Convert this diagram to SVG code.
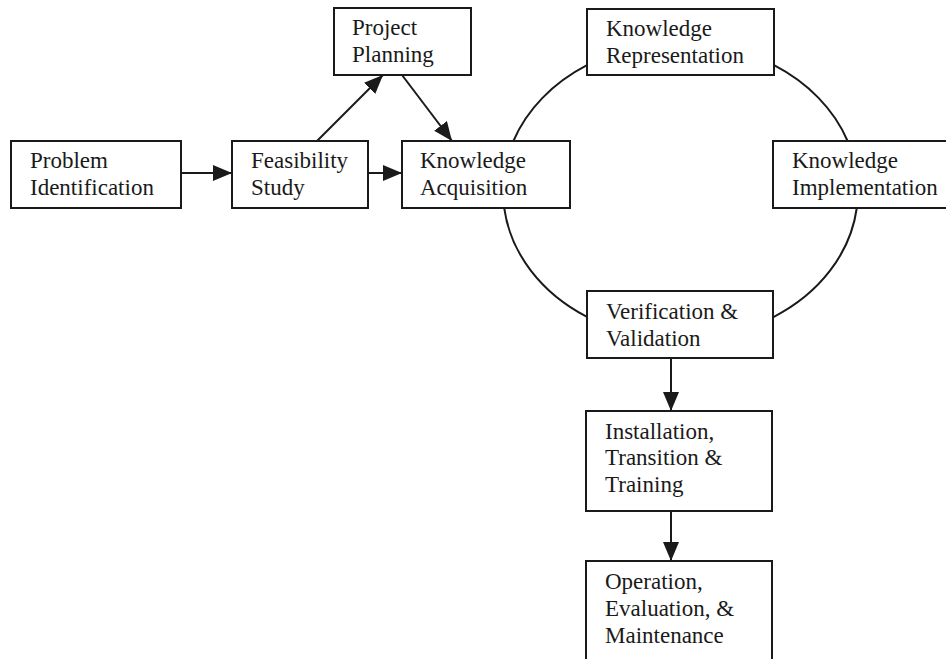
<svg xmlns="http://www.w3.org/2000/svg" width="946" height="659" viewBox="0 0 946 659">
<style>
.box{fill:#fff;stroke:#1a1a1a;stroke-width:2}
.t{font-family:"Liberation Serif","Times New Roman",serif;font-size:23px;fill:#1a1a1a}
.c{fill:none;stroke:#1a1a1a;stroke-width:2}
</style>
<defs>
<marker id="ah" markerUnits="userSpaceOnUse" markerWidth="20" markerHeight="18" refX="19" refY="8" orient="auto">
<path d="M0,0 L19,8 L0,16 z" fill="#1a1a1a"/>
</marker>
</defs>
<rect width="946" height="659" fill="#fff"/>
<g id="connectors">
<line class="c" x1="181" y1="173" x2="232" y2="173" marker-end="url(#ah)"/>
<line class="c" x1="368" y1="173" x2="402" y2="173" marker-end="url(#ah)"/>
<line class="c" x1="317" y1="141" x2="383" y2="75" marker-end="url(#ah)"/>
<line class="c" x1="402" y1="75" x2="452" y2="141" marker-end="url(#ah)"/>
<line class="c" x1="671" y1="358" x2="671" y2="411" marker-end="url(#ah)"/>
<line class="c" x1="671" y1="511" x2="671" y2="561" marker-end="url(#ah)"/>
<path class="c" d="M513.4,141 A177.5,148 0 0 1 587,65.2"/>
<path class="c" d="M774,65.2 A177.5,148 0 0 1 847.6,141"/>
<path class="c" d="M856.8,208 A177.5,148 0 0 1 773,317.3"/>
<path class="c" d="M587,316.8 A177.5,148 0 0 1 504.2,208"/>
</g>
<g id="problem-identification">
<rect class="box" x="11" y="141" width="170" height="67"/>
<text class="t" x="30" y="168">Problem</text>
<text class="t" x="30" y="195">Identification</text>
</g>
<g id="feasibility-study">
<rect class="box" x="232" y="141" width="136" height="67"/>
<text class="t" x="251" y="168">Feasibility</text>
<text class="t" x="251" y="195">Study</text>
</g>
<g id="project-planning">
<rect class="box" x="334" y="8" width="137" height="67"/>
<text class="t" x="352" y="35">Project</text>
<text class="t" x="352" y="62">Planning</text>
</g>
<g id="knowledge-acquisition">
<rect class="box" x="402" y="141" width="168" height="67"/>
<text class="t" x="420" y="168">Knowledge</text>
<text class="t" x="420" y="195">Acquisition</text>
</g>
<g id="knowledge-representation">
<rect class="box" x="587" y="9" width="187" height="66"/>
<text class="t" x="606" y="36">Knowledge</text>
<text class="t" x="606" y="63">Representation</text>
</g>
<g id="knowledge-implementation">
<rect class="box" x="773" y="141" width="185" height="67"/>
<text class="t" x="792" y="168">Knowledge</text>
<text class="t" x="792" y="195">Implementation</text>
</g>
<g id="verification-validation">
<rect class="box" x="587" y="291" width="186" height="67"/>
<text class="t" x="606" y="319">Verification &amp;</text>
<text class="t" x="606" y="346">Validation</text>
</g>
<g id="installation">
<rect class="box" x="586" y="411" width="186" height="100"/>
<text class="t" x="605" y="439">Installation,</text>
<text class="t" x="605" y="465">Transition &amp;</text>
<text class="t" x="605" y="492">Training</text>
</g>
<g id="operation">
<rect class="box" x="586" y="561" width="186" height="110"/>
<text class="t" x="605" y="589">Operation,</text>
<text class="t" x="605" y="616">Evaluation, &amp;</text>
<text class="t" x="605" y="643">Maintenance</text>
</g>
</svg>
